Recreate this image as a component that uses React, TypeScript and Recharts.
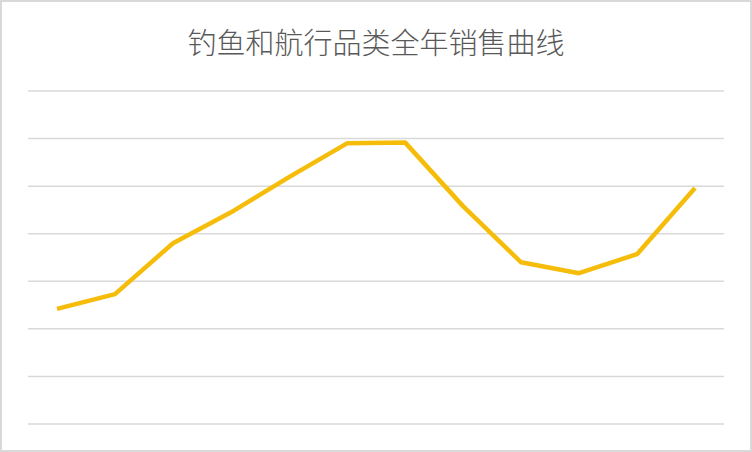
import { CartesianGrid, Line, LineChart, XAxis, YAxis } from "recharts";

// 全年12个月的销售曲线（数值按图上网格估读）
const months = ["1月", "2月", "3月", "4月", "5月", "6月", "7月", "8月", "9月", "10月", "11月", "12月"];
const sales = [24.2, 27.3, 38.0, 44.5, 51.9, 59.0, 59.2, 45.8, 34.0, 31.7, 35.7, 49.6];
const yTicks = [0, 10, 20, 30, 40, 50, 60, 70];

const data = months.map((month, i) => ({ month, sales: sales[i] }));

export default function App() {
  return (
    <div
      style={{
        position: "relative",
        width: 752,
        height: 452,
        boxSizing: "border-box",
        border: "2px solid #d9d9d9",
        background: "#fff",
      }}
    >
      <style>{`body{margin:0}`}</style>
      <div
        style={{
          position: "absolute",
          top: 19,
          left: 0,
          width: "100%",
          textAlign: "center",
          fontFamily: '"Noto Sans CJK SC", sans-serif',
          fontSize: 29,
          fontWeight: 300,
          color: "#595959",
          lineHeight: "40px",
        }}
      >
        钓鱼和航行品类全年销售曲线
      </div>
      <LineChart width={748} height={448} data={data} margin={{ top: 89, right: 26, bottom: 26, left: 26 }}>
        <CartesianGrid vertical={false} stroke="#d9d9d9" strokeWidth={1.5} />
        {/* 类别轴两端各留半格，点落在格子中间 */}
        <XAxis dataKey="month" hide padding={{ left: 29, right: 29 }} />
        <YAxis hide domain={[0, 70]} ticks={yTicks} />
        <Line
          type="linear"
          dataKey="sales"
          stroke="#F5BD0A"
          strokeWidth={4.5}
          strokeLinejoin="round"
          dot={false}
          isAnimationActive={false}
        />
      </LineChart>
    </div>
  );
}
